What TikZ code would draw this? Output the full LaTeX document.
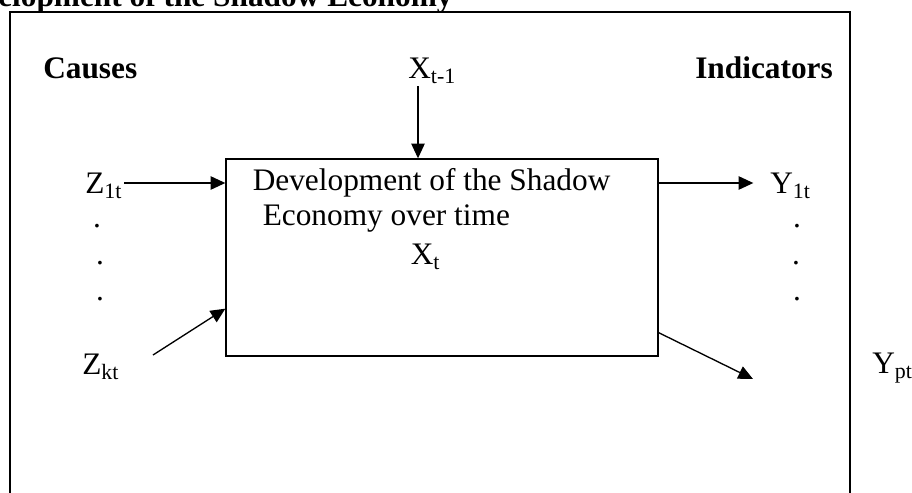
\documentclass[tikz,border=0pt]{standalone}
\usepackage{fontspec}
\setmainfont{Liberation Serif}
\usetikzlibrary{arrows.meta}
\newcommand{\diagfont}{\fontsize{23.5pt}{28pt}\selectfont}
\tikzset{
  lbl/.style={inner sep=1.5pt, text height=15.5pt, text depth=0pt, font=\diagfont},
  head/.style={lbl, font=\diagfont\bfseries},
  arr/.style={-{Triangle[length=11pt,width=10pt]}, line width=1pt},
  frame/.style={line width=1.5pt},
  devbox/.style={draw, line width=1pt, inner sep=0pt, minimum width=324pt, minimum height=147.75pt}
}
\begin{document}
\begin{tikzpicture}[x=0.75pt, y=-0.75pt]
\useasboundingbox (0,0) rectangle (912,492);
\node[head, anchor=base west, inner sep=0pt] (title) at (-2,7) {elopment of the Shadow Economy};
\draw[frame] (10,520) |- (850,12.5) -- (850,520);
\node[head, anchor=west] (causes) at (41,68.5) {Causes};
\node[head, anchor=west] (indicators) at (693,68.5) {Indicators};
\node[lbl, anchor=west] (xprev) at (406,68.5) {X\textsubscript{t-1}};
\node[devbox] (shadow) at (442,257.5) {};
\node[lbl, anchor=west] (dev1) at (250.5,180) {Development of the Shadow};
\node[lbl, anchor=west] (dev2) at (260.5,215) {Economy over time};
\node[lbl, anchor=west] (xt) at (408.5,254) {X\textsubscript{t}};
\node[lbl, anchor=west] (zone) at (83,183) {Z\textsubscript{1t}};
\node[lbl, anchor=west] (zkt) at (80,364) {Z\textsubscript{kt}};
\node[lbl, anchor=west] (yone) at (768,183) {Y\textsubscript{1t}};
\node[lbl, anchor=west] (ypt) at (870,363) {Y\textsubscript{pt}};
\node[lbl, anchor=base] (ldot1) at (97,227) {.};
\node[lbl, anchor=base] (ldot2) at (100,264) {.};
\node[lbl, anchor=base] (ldot3) at (100,300) {.};
\node[lbl, anchor=base] (rdot1) at (797,227) {.};
\node[lbl, anchor=base] (rdot2) at (796,264) {.};
\node[lbl, anchor=base] (rdot3) at (797,300) {.};
\coordinate (xprev-out) at (418,86);
\coordinate (zkt-out) at (153,355);
\coordinate (ypt-in) at (753,379);
\draw[arr] (xprev-out) -- (xprev-out |- shadow.north);
\draw[arr] (zone.east) -- (zone.east -| shadow.west);
\draw[arr] (zkt-out) -- ([yshift=36pt]shadow.south west);
\draw[arr] (shadow.east |- yone.west) -- ([xshift=-11pt]yone.west);
\draw[arr] ([yshift=18pt]shadow.south east) -- (ypt-in);
\end{tikzpicture}
\end{document}
